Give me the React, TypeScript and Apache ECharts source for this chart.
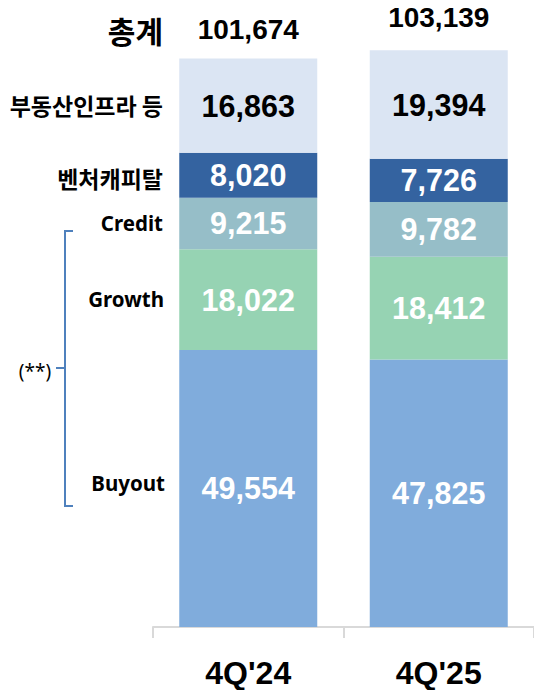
import React, { useEffect, useRef } from "react";
import * as echarts from "echarts";

const categories = ["4Q'24", "4Q'25"];
const buyout = [49554, 47825];
const growth = [18022, 18412];
const credit = [9215, 9782];
const venture = [8020, 7726];
const realEstate = [16863, 19394];
const totals = [101674, 103139];

const segmentNames = ["Buyout", "Growth", "Credit", "벤처캐피탈", "부동산인프라 등"];
const segmentColors = ["#80acdc", "#96d3b3", "#96bec8", "#3463a0", "#dbe5f3"];
const labelColors = ["#ffffff", "#ffffff", "#ffffff", "#ffffff", "#000000"];

const fmt = (v: number) => v.toLocaleString("en-US");

export default function App() {
  const ref = useRef<HTMLDivElement>(null);
  useEffect(() => {
    document.body.style.margin = "0";
    if (!ref.current) return;
    const chart = echarts.init(ref.current, null, { renderer: "svg" });
    const seriesData = [buyout, growth, credit, venture, realEstate];
    const numFont = "Liberation Sans";
    const bars = seriesData.map((d, i) => ({
      name: segmentNames[i],
      type: "bar",
      stack: "total",
      barWidth: 138,
      data: d,
      itemStyle: { color: segmentColors[i] },
      label: {
        show: true,
        position: "inside",
        color: labelColors[i],
        fontSize: 30.5,
        fontWeight: "bold",
        fontFamily: numFont,
        formatter: (p: any) => fmt(p.value),
      },
      emphasis: { disabled: true },
    }));
    const labelFontK = "Noto Sans CJK KR";
    const labelFontL = "Noto Sans";
    const leftLabel = (text: string, y: number, size: number, font: string, x = 163) => ({
      type: "text",
      x,
      y,
      style: {
        text,
        fill: "#000",
        font: `bold ${size}px "${font}"`,
        textAlign: "right",
        textVerticalAlign: "middle",
      },
    });
    const totalLabel = (distance: number) => ({
      show: true,
      position: "top",
      distance,
      color: "#000",
      opacity: 1,
      fontSize: 28,
      fontWeight: "bold",
      fontFamily: numFont,
      formatter: (p: any) => fmt(p.value),
    });
    chart.setOption({
      animation: false,
      grid: { left: 153, top: 12, width: 384, bottom: 63, containLabel: false },
      xAxis: {
        type: "category",
        data: categories,
        axisLine: { lineStyle: { color: "#d9d9d9", width: 2 } },
        axisTick: { show: true, length: 11, lineStyle: { color: "#d9d9d9", width: 2 } },
        axisLabel: {
          color: "#000",
          fontSize: 32,
          fontWeight: "bold",
          fontFamily: numFont,
          margin: 30,
        },
      },
      yAxis: {
        type: "value",
        min: 0,
        max: 110000,
        show: false,
        splitLine: { show: false },
      },
      series: [
        ...bars,
        {
          type: "scatter",
          symbolSize: 0,
          itemStyle: { color: "#000", opacity: 1 },
          data: totals.map((v, i) => ({
            value: v,
            label: totalLabel(i === 0 ? 15 : 19),
          })),
          label: totalLabel(16),
          emphasis: { disabled: true },
          silent: true,
        },
      ],
      graphic: [
        leftLabel("총계", 30, 30, labelFontK),
        leftLabel("부동산인프라 등", 105, 23, labelFontK),
        leftLabel("벤처캐피탈", 178, 23, labelFontK),
        leftLabel("Credit", 223, 20.5, labelFontL, 163),
        leftLabel("Growth", 299, 20.5, labelFontL, 164),
        leftLabel("Buyout", 483, 20.5, labelFontL, 165),
        {
          type: "text",
          x: 35,
          y: 371,
          style: {
            text: "(**)",
            fill: "#000",
            font: `normal 19px "${labelFontL}"`,
            textAlign: "center",
            textVerticalAlign: "middle",
          },
        },
        {
          type: "polyline",
          shape: { points: [[73, 231], [65, 231], [65, 506], [73, 506]] },
          style: { stroke: "#4f81bd", lineWidth: 2, fill: "none" },
        },
        {
          type: "line",
          shape: { x1: 56, y1: 368, x2: 65, y2: 368 },
          style: { stroke: "#4f81bd", lineWidth: 2 },
        },
      ],
    });
    return () => chart.dispose();
  }, []);
  return <div ref={ref} style={{ width: 534, height: 690 }} />;
}
